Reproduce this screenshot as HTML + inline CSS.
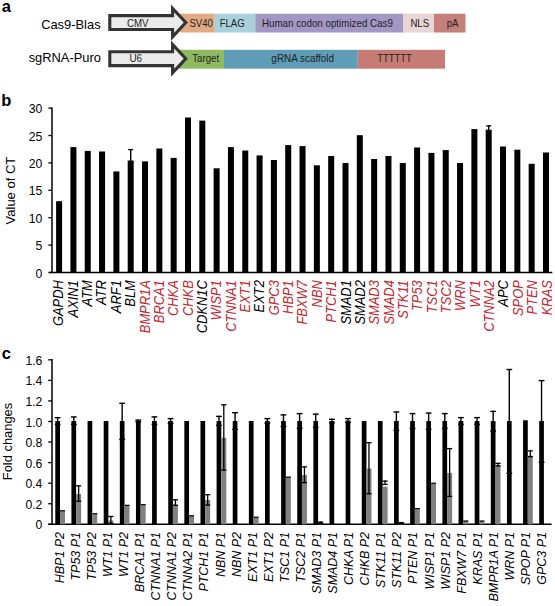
<!DOCTYPE html>
<html><head><meta charset="utf-8"><style>
html,body{margin:0;padding:0;background:#fff;}
svg{display:block;}
text{font-family:"Liberation Sans", sans-serif;}
</style></head><body>
<svg width="555" height="606" viewBox="0 0 555 606" font-family='"Liberation Sans", sans-serif'>
<rect width="555" height="606" fill="#fff"/>
<text x="1.8" y="11.9" font-size="16.5" font-weight="bold">a</text>
<text x="100.6" y="28.9" font-size="12.9" text-anchor="end">Cas9-Blas</text>
<text x="101.0" y="62.1" font-size="12.9" text-anchor="end">sgRNA-Puro</text>
<rect x="180.2" y="13.7" width="34.50" height="18.8" fill="#e2aa84"/>
<rect x="214.7" y="13.7" width="40.60" height="18.8" fill="#a9d1dd"/>
<rect x="255.3" y="13.7" width="147.70" height="18.8" fill="#a398c4"/>
<rect x="403" y="13.7" width="31.00" height="18.8" fill="#e9d5d6"/>
<rect x="434" y="13.7" width="31.50" height="18.8" fill="#c5807a"/>
<rect x="178.6" y="49.8" width="45.40" height="18.9" fill="#8fba62"/>
<rect x="224" y="49.8" width="133.80" height="18.9" fill="#5f9db7"/>
<rect x="357.8" y="49.8" width="87.20" height="18.9" fill="#c67c74"/>
<text x="201.1" y="26.8" font-size="10.2" text-anchor="middle" textLength="23.43" lengthAdjust="spacingAndGlyphs" fill="#1e1e1e">SV40</text>
<text x="232.1" y="26.8" font-size="10.2" text-anchor="middle" textLength="24.94" lengthAdjust="spacingAndGlyphs" fill="#1e1e1e">FLAG</text>
<text x="327.4" y="26.9" font-size="10.2" text-anchor="middle" textLength="131.00" lengthAdjust="spacingAndGlyphs" fill="#1e1e1e">Human codon optimized Cas9</text>
<text x="419.8" y="26.7" font-size="10.2" text-anchor="middle" textLength="18.81" lengthAdjust="spacingAndGlyphs" fill="#1e1e1e">NLS</text>
<text x="452.6" y="26.7" font-size="10.2" text-anchor="middle" textLength="11.70" lengthAdjust="spacingAndGlyphs" fill="#1e1e1e">pA</text>
<text x="205.7" y="61.9" font-size="10.2" text-anchor="middle" textLength="26.87" lengthAdjust="spacingAndGlyphs" fill="#1e1e1e">Target</text>
<text x="302.7" y="61.9" font-size="10.2" text-anchor="middle" textLength="62.67" lengthAdjust="spacingAndGlyphs" fill="#1e1e1e">gRNA scaffold</text>
<text x="394.4" y="61.7" font-size="10.2" text-anchor="middle" textLength="34.52" lengthAdjust="spacingAndGlyphs" fill="#1e1e1e">TTTTTT</text>
<polygon points="109.8,15.6 172.6,15.6 172.6,8.4 185.8,22.55 172.6,36.7 172.6,29.5 109.8,29.5" fill="#ebebeb" stroke="#333" stroke-width="3.1" stroke-linejoin="miter" stroke-miterlimit="10"/>
<polygon points="109.8,51.7 172.6,51.7 172.6,44.5 185.8,58.65 172.6,72.80000000000001 172.6,65.6 109.8,65.6" fill="#ebebeb" stroke="#333" stroke-width="3.1" stroke-linejoin="miter" stroke-miterlimit="10"/>
<text x="137.8" y="26.7" font-size="10.2" text-anchor="middle" textLength="21.51" lengthAdjust="spacingAndGlyphs" fill="#1e1e1e">CMV</text>
<text x="135.8" y="61.8" font-size="10.2" text-anchor="middle" textLength="12.66" lengthAdjust="spacingAndGlyphs" fill="#1e1e1e">U6</text>
<text x="1.3" y="106.2" font-size="16.5" font-weight="bold">b</text>
<line x1="52.0" y1="107.39999999999999" x2="52.0" y2="272.5" stroke="#000" stroke-width="1.5"/>
<line x1="49" y1="272.5" x2="552.3" y2="272.5" stroke="#000" stroke-width="1.5"/>
<line x1="48.4" y1="272.50" x2="52.0" y2="272.50" stroke="#000" stroke-width="1.3"/>
<text x="42.4" y="277.50" font-size="12.2" text-anchor="end">0</text>
<line x1="48.4" y1="245.10" x2="52.0" y2="245.10" stroke="#000" stroke-width="1.3"/>
<text x="42.4" y="250.10" font-size="12.2" text-anchor="end">5</text>
<line x1="48.4" y1="217.70" x2="52.0" y2="217.70" stroke="#000" stroke-width="1.3"/>
<text x="42.4" y="222.70" font-size="12.2" text-anchor="end">10</text>
<line x1="48.4" y1="190.30" x2="52.0" y2="190.30" stroke="#000" stroke-width="1.3"/>
<text x="42.4" y="195.30" font-size="12.2" text-anchor="end">15</text>
<line x1="48.4" y1="162.90" x2="52.0" y2="162.90" stroke="#000" stroke-width="1.3"/>
<text x="42.4" y="167.90" font-size="12.2" text-anchor="end">20</text>
<line x1="48.4" y1="135.50" x2="52.0" y2="135.50" stroke="#000" stroke-width="1.3"/>
<text x="42.4" y="140.50" font-size="12.2" text-anchor="end">25</text>
<line x1="48.4" y1="108.10" x2="52.0" y2="108.10" stroke="#000" stroke-width="1.3"/>
<text x="42.4" y="113.10" font-size="12.2" text-anchor="end">30</text>
<text transform="translate(14.5,190.6) rotate(-90)" font-size="13" text-anchor="middle">Value of CT</text>
<rect x="56.10" y="201.2" width="6.0" height="71.30" fill="#000"/>
<text transform="translate(63.40,280.2) rotate(-90) scale(0.915,1)" font-size="14.1" font-style="italic" text-anchor="end" fill="#000">GAPDH</text>
<rect x="70.42" y="147.1" width="6.0" height="125.40" fill="#000"/>
<text transform="translate(77.76,280.2) rotate(-90) scale(0.915,1)" font-size="14.1" font-style="italic" text-anchor="end" fill="#000">AXIN1</text>
<rect x="84.74" y="150.9" width="6.0" height="121.60" fill="#000"/>
<text transform="translate(92.11,280.2) rotate(-90) scale(0.915,1)" font-size="14.1" font-style="italic" text-anchor="end" fill="#000">ATM</text>
<rect x="99.06" y="151.5" width="6.0" height="121.00" fill="#000"/>
<text transform="translate(106.47,280.2) rotate(-90) scale(0.915,1)" font-size="14.1" font-style="italic" text-anchor="end" fill="#000">ATR</text>
<rect x="113.38" y="171.4" width="6.0" height="101.10" fill="#000"/>
<text transform="translate(120.82,280.2) rotate(-90) scale(0.915,1)" font-size="14.1" font-style="italic" text-anchor="end" fill="#000">ARF1</text>
<rect x="127.70" y="160.5" width="6.0" height="112.00" fill="#000"/>
<text transform="translate(135.18,280.2) rotate(-90) scale(0.915,1)" font-size="14.1" font-style="italic" text-anchor="end" fill="#000">BLM</text>
<rect x="142.02" y="161.4" width="6.0" height="111.10" fill="#000"/>
<text transform="translate(149.54,280.2) rotate(-90) scale(0.915,1)" font-size="14.1" font-style="italic" text-anchor="end" fill="#c5262f">BMPR1A</text>
<rect x="156.34" y="148.5" width="6.0" height="124.00" fill="#000"/>
<text transform="translate(163.89,280.2) rotate(-90) scale(0.915,1)" font-size="14.1" font-style="italic" text-anchor="end" fill="#c5262f">BRCA1</text>
<rect x="170.66" y="157.9" width="6.0" height="114.60" fill="#000"/>
<text transform="translate(178.25,280.2) rotate(-90) scale(0.915,1)" font-size="14.1" font-style="italic" text-anchor="end" fill="#c5262f">CHKA</text>
<rect x="184.98" y="117.5" width="6.0" height="155.00" fill="#000"/>
<text transform="translate(192.60,280.2) rotate(-90) scale(0.915,1)" font-size="14.1" font-style="italic" text-anchor="end" fill="#c5262f">CHKB</text>
<rect x="199.30" y="120.6" width="6.0" height="151.90" fill="#000"/>
<text transform="translate(206.96,280.2) rotate(-90) scale(0.915,1)" font-size="14.1" font-style="italic" text-anchor="end" fill="#000">CDKN1C</text>
<rect x="213.62" y="168.3" width="6.0" height="104.20" fill="#000"/>
<text transform="translate(221.32,280.2) rotate(-90) scale(0.915,1)" font-size="14.1" font-style="italic" text-anchor="end" fill="#c5262f">WISP1</text>
<rect x="227.94" y="147.1" width="6.0" height="125.40" fill="#000"/>
<text transform="translate(235.67,280.2) rotate(-90) scale(0.915,1)" font-size="14.1" font-style="italic" text-anchor="end" fill="#c5262f">CTNNA1</text>
<rect x="242.26" y="150.5" width="6.0" height="122.00" fill="#000"/>
<text transform="translate(250.03,280.2) rotate(-90) scale(0.915,1)" font-size="14.1" font-style="italic" text-anchor="end" fill="#c5262f">EXT1</text>
<rect x="256.58" y="155.4" width="6.0" height="117.10" fill="#000"/>
<text transform="translate(264.38,280.2) rotate(-90) scale(0.915,1)" font-size="14.1" font-style="italic" text-anchor="end" fill="#000">EXT2</text>
<rect x="270.90" y="160" width="6.0" height="112.50" fill="#000"/>
<text transform="translate(278.74,280.2) rotate(-90) scale(0.915,1)" font-size="14.1" font-style="italic" text-anchor="end" fill="#c5262f">GPC3</text>
<rect x="285.22" y="145.1" width="6.0" height="127.40" fill="#000"/>
<text transform="translate(293.10,280.2) rotate(-90) scale(0.915,1)" font-size="14.1" font-style="italic" text-anchor="end" fill="#c5262f">HBP1</text>
<rect x="299.54" y="146.1" width="6.0" height="126.40" fill="#000"/>
<text transform="translate(307.45,280.2) rotate(-90) scale(0.915,1)" font-size="14.1" font-style="italic" text-anchor="end" fill="#c5262f">FBXW7</text>
<rect x="313.86" y="165.3" width="6.0" height="107.20" fill="#000"/>
<text transform="translate(321.81,280.2) rotate(-90) scale(0.915,1)" font-size="14.1" font-style="italic" text-anchor="end" fill="#c5262f">NBN</text>
<rect x="328.18" y="156" width="6.0" height="116.50" fill="#000"/>
<text transform="translate(336.16,280.2) rotate(-90) scale(0.915,1)" font-size="14.1" font-style="italic" text-anchor="end" fill="#c5262f">PTCH1</text>
<rect x="342.50" y="163" width="6.0" height="109.50" fill="#000"/>
<text transform="translate(350.52,280.2) rotate(-90) scale(0.915,1)" font-size="14.1" font-style="italic" text-anchor="end" fill="#000">SMAD1</text>
<rect x="356.82" y="135.2" width="6.0" height="137.30" fill="#000"/>
<text transform="translate(364.88,280.2) rotate(-90) scale(0.915,1)" font-size="14.1" font-style="italic" text-anchor="end" fill="#000">SMAD2</text>
<rect x="371.14" y="159" width="6.0" height="113.50" fill="#000"/>
<text transform="translate(379.23,280.2) rotate(-90) scale(0.915,1)" font-size="14.1" font-style="italic" text-anchor="end" fill="#c5262f">SMAD3</text>
<rect x="385.46" y="156" width="6.0" height="116.50" fill="#000"/>
<text transform="translate(393.59,280.2) rotate(-90) scale(0.915,1)" font-size="14.1" font-style="italic" text-anchor="end" fill="#c5262f">SMAD4</text>
<rect x="399.78" y="163" width="6.0" height="109.50" fill="#000"/>
<text transform="translate(407.94,280.2) rotate(-90) scale(0.915,1)" font-size="14.1" font-style="italic" text-anchor="end" fill="#c5262f">STK11</text>
<rect x="414.10" y="147.5" width="6.0" height="125.00" fill="#000"/>
<text transform="translate(422.30,280.2) rotate(-90) scale(0.915,1)" font-size="14.1" font-style="italic" text-anchor="end" fill="#c5262f">TP53</text>
<rect x="428.42" y="152.9" width="6.0" height="119.60" fill="#000"/>
<text transform="translate(436.66,280.2) rotate(-90) scale(0.915,1)" font-size="14.1" font-style="italic" text-anchor="end" fill="#c5262f">TSC1</text>
<rect x="442.74" y="150.1" width="6.0" height="122.40" fill="#000"/>
<text transform="translate(451.01,280.2) rotate(-90) scale(0.915,1)" font-size="14.1" font-style="italic" text-anchor="end" fill="#c5262f">TSC2</text>
<rect x="457.06" y="163" width="6.0" height="109.50" fill="#000"/>
<text transform="translate(465.37,280.2) rotate(-90) scale(0.915,1)" font-size="14.1" font-style="italic" text-anchor="end" fill="#c5262f">WRN</text>
<rect x="471.38" y="129.1" width="6.0" height="143.40" fill="#000"/>
<text transform="translate(479.72,280.2) rotate(-90) scale(0.915,1)" font-size="14.1" font-style="italic" text-anchor="end" fill="#c5262f">WT1</text>
<rect x="485.70" y="129.7" width="6.0" height="142.80" fill="#000"/>
<text transform="translate(494.08,280.2) rotate(-90) scale(0.915,1)" font-size="14.1" font-style="italic" text-anchor="end" fill="#c5262f">CTNNA2</text>
<rect x="500.02" y="146.5" width="6.0" height="126.00" fill="#000"/>
<text transform="translate(508.44,280.2) rotate(-90) scale(0.915,1)" font-size="14.1" font-style="italic" text-anchor="end" fill="#000">APC</text>
<rect x="514.34" y="149.7" width="6.0" height="122.80" fill="#000"/>
<text transform="translate(522.79,280.2) rotate(-90) scale(0.915,1)" font-size="14.1" font-style="italic" text-anchor="end" fill="#c5262f">SPOP</text>
<rect x="528.66" y="163.8" width="6.0" height="108.70" fill="#000"/>
<text transform="translate(537.15,280.2) rotate(-90) scale(0.915,1)" font-size="14.1" font-style="italic" text-anchor="end" fill="#c5262f">PTEN</text>
<rect x="542.98" y="152.5" width="6.0" height="120.00" fill="#000"/>
<text transform="translate(551.50,280.2) rotate(-90) scale(0.915,1)" font-size="14.1" font-style="italic" text-anchor="end" fill="#c5262f">KRAS</text>
<line x1="130.70" y1="149.0" x2="130.70" y2="161" stroke="#000" stroke-width="1.4"/>
<line x1="128.20" y1="149.6" x2="133.20" y2="149.6" stroke="#000" stroke-width="1.3"/>
<line x1="488.70" y1="125.3" x2="488.70" y2="130" stroke="#000" stroke-width="1.4"/>
<line x1="486.20" y1="125.89999999999999" x2="491.20" y2="125.89999999999999" stroke="#000" stroke-width="1.3"/>
<text x="1.7" y="358.9" font-size="16.5" font-weight="bold">c</text>
<line x1="52.0" y1="359.12" x2="52.0" y2="524.3" stroke="#000" stroke-width="1.5"/>
<line x1="48" y1="524.3" x2="551.6" y2="524.3" stroke="#000" stroke-width="1.5"/>
<line x1="48.2" y1="524.30" x2="52.0" y2="524.30" stroke="#000" stroke-width="1.3"/>
<text x="42.4" y="529.30" font-size="12.2" text-anchor="end">0</text>
<line x1="48.2" y1="503.74" x2="52.0" y2="503.74" stroke="#000" stroke-width="1.3"/>
<text x="42.4" y="508.74" font-size="12.2" text-anchor="end">0.2</text>
<line x1="48.2" y1="483.18" x2="52.0" y2="483.18" stroke="#000" stroke-width="1.3"/>
<text x="42.4" y="488.18" font-size="12.2" text-anchor="end">0.4</text>
<line x1="48.2" y1="462.62" x2="52.0" y2="462.62" stroke="#000" stroke-width="1.3"/>
<text x="42.4" y="467.62" font-size="12.2" text-anchor="end">0.6</text>
<line x1="48.2" y1="442.06" x2="52.0" y2="442.06" stroke="#000" stroke-width="1.3"/>
<text x="42.4" y="447.06" font-size="12.2" text-anchor="end">0.8</text>
<line x1="48.2" y1="421.50" x2="52.0" y2="421.50" stroke="#000" stroke-width="1.3"/>
<text x="42.4" y="426.50" font-size="12.2" text-anchor="end">1.0</text>
<line x1="48.2" y1="400.94" x2="52.0" y2="400.94" stroke="#000" stroke-width="1.3"/>
<text x="42.4" y="405.94" font-size="12.2" text-anchor="end">1.2</text>
<line x1="48.2" y1="380.38" x2="52.0" y2="380.38" stroke="#000" stroke-width="1.3"/>
<text x="42.4" y="385.38" font-size="12.2" text-anchor="end">1.4</text>
<line x1="48.2" y1="359.82" x2="52.0" y2="359.82" stroke="#000" stroke-width="1.3"/>
<text x="42.4" y="364.82" font-size="12.2" text-anchor="end">1.6</text>
<text transform="translate(11.8,441.5) rotate(-90)" font-size="12.9" text-anchor="middle">Fold changes</text>
<rect x="55.30" y="421" width="4.7" height="103.30" fill="#000"/>
<rect x="60.00" y="510.2" width="5.0" height="14.10" fill="#808080"/>
<line x1="60.00" y1="510.8" x2="65.00" y2="510.8" stroke="#111" stroke-width="1.2"/>
<line x1="57.65" y1="417.1" x2="57.65" y2="421" stroke="#000" stroke-width="1.4"/>
<line x1="54.75" y1="417.70000000000005" x2="60.55" y2="417.70000000000005" stroke="#000" stroke-width="1.4"/>
<line x1="54.75" y1="424.4" x2="60.55" y2="424.4" stroke="#000" stroke-width="1.4"/>
<text transform="translate(63.70,532.0) rotate(-90) scale(1.04,1)" font-size="12" font-style="italic" text-anchor="end">HBP1 P2</text>
<rect x="71.43" y="421" width="4.7" height="103.30" fill="#000"/>
<rect x="76.13" y="494" width="5.0" height="30.30" fill="#808080"/>
<line x1="73.78" y1="416.4" x2="73.78" y2="421" stroke="#000" stroke-width="1.4"/>
<line x1="70.88" y1="417.0" x2="76.68" y2="417.0" stroke="#000" stroke-width="1.4"/>
<line x1="70.88" y1="424.4" x2="76.68" y2="424.4" stroke="#000" stroke-width="1.4"/>
<line x1="78.63" y1="485.3" x2="78.63" y2="501.9" stroke="#000" stroke-width="1.3"/>
<line x1="76.03" y1="485.90000000000003" x2="81.23" y2="485.90000000000003" stroke="#000" stroke-width="1.3"/>
<line x1="76.03" y1="501.29999999999995" x2="81.23" y2="501.29999999999995" stroke="#000" stroke-width="1.3"/>
<text transform="translate(79.78,532.0) rotate(-90) scale(1.04,1)" font-size="12" font-style="italic" text-anchor="end">TP53 P1</text>
<rect x="87.56" y="421" width="4.7" height="103.30" fill="#000"/>
<rect x="92.26" y="513.1" width="5.0" height="11.20" fill="#808080"/>
<line x1="92.26" y1="513.7" x2="97.26" y2="513.7" stroke="#111" stroke-width="1.2"/>
<text transform="translate(95.86,532.0) rotate(-90) scale(1.04,1)" font-size="12" font-style="italic" text-anchor="end">TP53 P2</text>
<rect x="103.69" y="421" width="4.7" height="103.30" fill="#000"/>
<rect x="108.39" y="520.5" width="5.0" height="3.80" fill="#808080"/>
<line x1="110.89" y1="515.9" x2="110.89" y2="524" stroke="#000" stroke-width="1.3"/>
<line x1="108.29" y1="516.5" x2="113.49" y2="516.5" stroke="#000" stroke-width="1.3"/>
<line x1="108.29" y1="523.4" x2="113.49" y2="523.4" stroke="#000" stroke-width="1.3"/>
<text transform="translate(111.94,532.0) rotate(-90) scale(1.04,1)" font-size="12" font-style="italic" text-anchor="end">WT1 P1</text>
<rect x="119.82" y="421" width="4.7" height="103.30" fill="#000"/>
<rect x="124.52" y="504.8" width="5.0" height="19.50" fill="#808080"/>
<line x1="124.52" y1="505.40000000000003" x2="129.52" y2="505.40000000000003" stroke="#111" stroke-width="1.2"/>
<line x1="122.17" y1="402.7" x2="122.17" y2="421" stroke="#000" stroke-width="1.4"/>
<line x1="119.27" y1="403.3" x2="125.07" y2="403.3" stroke="#000" stroke-width="1.4"/>
<line x1="119.27" y1="439.4" x2="125.07" y2="439.4" stroke="#000" stroke-width="1.4"/>
<text transform="translate(128.02,532.0) rotate(-90) scale(1.04,1)" font-size="12" font-style="italic" text-anchor="end">WT1 P2</text>
<rect x="135.95" y="421" width="4.7" height="103.30" fill="#000"/>
<rect x="140.65" y="504" width="5.0" height="20.30" fill="#808080"/>
<line x1="140.65" y1="504.6" x2="145.65" y2="504.6" stroke="#111" stroke-width="1.2"/>
<line x1="138.30" y1="419.5" x2="138.30" y2="421" stroke="#000" stroke-width="1.4"/>
<line x1="135.40" y1="420.1" x2="141.20" y2="420.1" stroke="#000" stroke-width="1.4"/>
<line x1="135.40" y1="421.9" x2="141.20" y2="421.9" stroke="#000" stroke-width="1.4"/>
<text transform="translate(144.10,532.0) rotate(-90) scale(1.04,1)" font-size="12" font-style="italic" text-anchor="end">BRCA1 P1</text>
<rect x="152.08" y="421" width="4.7" height="103.30" fill="#000"/>
<line x1="154.43" y1="416.3" x2="154.43" y2="421" stroke="#000" stroke-width="1.4"/>
<line x1="151.53" y1="416.90000000000003" x2="157.33" y2="416.90000000000003" stroke="#000" stroke-width="1.4"/>
<line x1="151.53" y1="424.4" x2="157.33" y2="424.4" stroke="#000" stroke-width="1.4"/>
<text transform="translate(160.18,532.0) rotate(-90) scale(1.04,1)" font-size="12" font-style="italic" text-anchor="end">CTNNA1 P1</text>
<rect x="168.21" y="421" width="4.7" height="103.30" fill="#000"/>
<rect x="172.91" y="505" width="5.0" height="19.30" fill="#808080"/>
<line x1="170.56" y1="418" x2="170.56" y2="421" stroke="#000" stroke-width="1.4"/>
<line x1="167.66" y1="418.6" x2="173.46" y2="418.6" stroke="#000" stroke-width="1.4"/>
<line x1="167.66" y1="423.4" x2="173.46" y2="423.4" stroke="#000" stroke-width="1.4"/>
<line x1="175.41" y1="499.2" x2="175.41" y2="505.8" stroke="#000" stroke-width="1.3"/>
<line x1="172.81" y1="499.8" x2="178.01" y2="499.8" stroke="#000" stroke-width="1.3"/>
<line x1="172.81" y1="505.2" x2="178.01" y2="505.2" stroke="#000" stroke-width="1.3"/>
<text transform="translate(176.26,532.0) rotate(-90) scale(1.04,1)" font-size="12" font-style="italic" text-anchor="end">CTNNA1 P2</text>
<rect x="184.34" y="421" width="4.7" height="103.30" fill="#000"/>
<rect x="189.04" y="515.2" width="5.0" height="9.10" fill="#808080"/>
<line x1="189.04" y1="515.8000000000001" x2="194.04" y2="515.8000000000001" stroke="#111" stroke-width="1.2"/>
<text transform="translate(192.34,532.0) rotate(-90) scale(1.04,1)" font-size="12" font-style="italic" text-anchor="end">CTNNA2 P1</text>
<rect x="200.47" y="421" width="4.7" height="103.30" fill="#000"/>
<rect x="205.17" y="500" width="5.0" height="24.30" fill="#808080"/>
<line x1="207.67" y1="494.1" x2="207.67" y2="505.7" stroke="#000" stroke-width="1.3"/>
<line x1="205.07" y1="494.70000000000005" x2="210.27" y2="494.70000000000005" stroke="#000" stroke-width="1.3"/>
<line x1="205.07" y1="505.09999999999997" x2="210.27" y2="505.09999999999997" stroke="#000" stroke-width="1.3"/>
<text transform="translate(208.42,532.0) rotate(-90) scale(1.04,1)" font-size="12" font-style="italic" text-anchor="end">PTCH1 P1</text>
<rect x="216.60" y="421" width="4.7" height="103.30" fill="#000"/>
<rect x="221.30" y="437.8" width="5.0" height="86.50" fill="#808080"/>
<line x1="218.95" y1="415.8" x2="218.95" y2="421" stroke="#000" stroke-width="1.4"/>
<line x1="216.05" y1="416.40000000000003" x2="221.85" y2="416.40000000000003" stroke="#000" stroke-width="1.4"/>
<line x1="216.05" y1="425.4" x2="221.85" y2="425.4" stroke="#000" stroke-width="1.4"/>
<line x1="223.80" y1="404.2" x2="223.80" y2="470.7" stroke="#000" stroke-width="1.3"/>
<line x1="221.20" y1="404.8" x2="226.40" y2="404.8" stroke="#000" stroke-width="1.3"/>
<line x1="221.20" y1="470.09999999999997" x2="226.40" y2="470.09999999999997" stroke="#000" stroke-width="1.3"/>
<text transform="translate(224.50,532.0) rotate(-90) scale(1.04,1)" font-size="12" font-style="italic" text-anchor="end">NBN P1</text>
<rect x="232.73" y="421" width="4.7" height="103.30" fill="#000"/>
<line x1="235.08" y1="412.1" x2="235.08" y2="421" stroke="#000" stroke-width="1.4"/>
<line x1="232.18" y1="412.70000000000005" x2="237.98" y2="412.70000000000005" stroke="#000" stroke-width="1.4"/>
<line x1="232.18" y1="429.4" x2="237.98" y2="429.4" stroke="#000" stroke-width="1.4"/>
<text transform="translate(240.58,532.0) rotate(-90) scale(1.04,1)" font-size="12" font-style="italic" text-anchor="end">NBN P2</text>
<rect x="248.86" y="421" width="4.7" height="103.30" fill="#000"/>
<rect x="253.56" y="516.7" width="5.0" height="7.60" fill="#808080"/>
<line x1="253.56" y1="517.3000000000001" x2="258.56" y2="517.3000000000001" stroke="#111" stroke-width="1.2"/>
<text transform="translate(256.66,532.0) rotate(-90) scale(1.04,1)" font-size="12" font-style="italic" text-anchor="end">EXT1 P1</text>
<rect x="264.99" y="421" width="4.7" height="103.30" fill="#000"/>
<line x1="267.34" y1="418" x2="267.34" y2="421" stroke="#000" stroke-width="1.4"/>
<line x1="264.44" y1="418.6" x2="270.24" y2="418.6" stroke="#000" stroke-width="1.4"/>
<line x1="264.44" y1="423.4" x2="270.24" y2="423.4" stroke="#000" stroke-width="1.4"/>
<text transform="translate(272.74,532.0) rotate(-90) scale(1.04,1)" font-size="12" font-style="italic" text-anchor="end">EXT1 P2</text>
<rect x="281.12" y="421" width="4.7" height="103.30" fill="#000"/>
<rect x="285.82" y="476.6" width="5.0" height="47.70" fill="#808080"/>
<line x1="285.82" y1="477.20000000000005" x2="290.82" y2="477.20000000000005" stroke="#111" stroke-width="1.2"/>
<line x1="283.47" y1="414.3" x2="283.47" y2="421" stroke="#000" stroke-width="1.4"/>
<line x1="280.57" y1="414.90000000000003" x2="286.37" y2="414.90000000000003" stroke="#000" stroke-width="1.4"/>
<line x1="280.57" y1="426.4" x2="286.37" y2="426.4" stroke="#000" stroke-width="1.4"/>
<text transform="translate(288.82,532.0) rotate(-90) scale(1.04,1)" font-size="12" font-style="italic" text-anchor="end">TSC1 P1</text>
<rect x="297.25" y="421" width="4.7" height="103.30" fill="#000"/>
<rect x="301.95" y="475" width="5.0" height="49.30" fill="#808080"/>
<line x1="299.60" y1="413" x2="299.60" y2="421" stroke="#000" stroke-width="1.4"/>
<line x1="296.70" y1="413.6" x2="302.50" y2="413.6" stroke="#000" stroke-width="1.4"/>
<line x1="296.70" y1="428.4" x2="302.50" y2="428.4" stroke="#000" stroke-width="1.4"/>
<line x1="304.45" y1="466.3" x2="304.45" y2="483.2" stroke="#000" stroke-width="1.3"/>
<line x1="301.85" y1="466.90000000000003" x2="307.05" y2="466.90000000000003" stroke="#000" stroke-width="1.3"/>
<line x1="301.85" y1="482.59999999999997" x2="307.05" y2="482.59999999999997" stroke="#000" stroke-width="1.3"/>
<text transform="translate(304.90,532.0) rotate(-90) scale(1.04,1)" font-size="12" font-style="italic" text-anchor="end">TSC2 P1</text>
<rect x="313.38" y="421" width="4.7" height="103.30" fill="#000"/>
<rect x="318.08" y="522.5" width="5.0" height="1.80" fill="#808080"/>
<line x1="315.73" y1="413.6" x2="315.73" y2="421" stroke="#000" stroke-width="1.4"/>
<line x1="312.83" y1="414.20000000000005" x2="318.63" y2="414.20000000000005" stroke="#000" stroke-width="1.4"/>
<line x1="312.83" y1="427.4" x2="318.63" y2="427.4" stroke="#000" stroke-width="1.4"/>
<line x1="320.58" y1="521.5" x2="320.58" y2="524" stroke="#000" stroke-width="1.3"/>
<line x1="317.98" y1="522.1" x2="323.18" y2="522.1" stroke="#000" stroke-width="1.3"/>
<line x1="317.98" y1="523.4" x2="323.18" y2="523.4" stroke="#000" stroke-width="1.3"/>
<text transform="translate(320.98,532.0) rotate(-90) scale(1.04,1)" font-size="12" font-style="italic" text-anchor="end">SMAD3 P1</text>
<rect x="329.51" y="421" width="4.7" height="103.30" fill="#000"/>
<line x1="331.86" y1="418.7" x2="331.86" y2="421" stroke="#000" stroke-width="1.4"/>
<line x1="328.96" y1="419.3" x2="334.76" y2="419.3" stroke="#000" stroke-width="1.4"/>
<line x1="328.96" y1="422.9" x2="334.76" y2="422.9" stroke="#000" stroke-width="1.4"/>
<text transform="translate(337.06,532.0) rotate(-90) scale(1.04,1)" font-size="12" font-style="italic" text-anchor="end">SMAD4 P1</text>
<rect x="345.64" y="420.5" width="4.7" height="103.80" fill="#000"/>
<line x1="347.99" y1="418" x2="347.99" y2="420.5" stroke="#000" stroke-width="1.4"/>
<line x1="345.09" y1="418.6" x2="350.89" y2="418.6" stroke="#000" stroke-width="1.4"/>
<line x1="345.09" y1="422.4" x2="350.89" y2="422.4" stroke="#000" stroke-width="1.4"/>
<text transform="translate(353.14,532.0) rotate(-90) scale(1.04,1)" font-size="12" font-style="italic" text-anchor="end">CHKA P1</text>
<rect x="361.77" y="421" width="4.7" height="103.30" fill="#000"/>
<rect x="366.47" y="468.5" width="5.0" height="55.80" fill="#808080"/>
<line x1="368.97" y1="442.1" x2="368.97" y2="494.3" stroke="#000" stroke-width="1.3"/>
<line x1="366.37" y1="442.70000000000005" x2="371.57" y2="442.70000000000005" stroke="#000" stroke-width="1.3"/>
<line x1="366.37" y1="493.7" x2="371.57" y2="493.7" stroke="#000" stroke-width="1.3"/>
<text transform="translate(369.22,532.0) rotate(-90) scale(1.04,1)" font-size="12" font-style="italic" text-anchor="end">CHKB P2</text>
<rect x="377.90" y="421" width="4.7" height="103.30" fill="#000"/>
<rect x="382.60" y="486.7" width="5.0" height="37.60" fill="#808080"/>
<line x1="385.10" y1="480.5" x2="385.10" y2="485" stroke="#000" stroke-width="1.3"/>
<line x1="382.50" y1="481.1" x2="387.70" y2="481.1" stroke="#000" stroke-width="1.3"/>
<line x1="382.50" y1="484.4" x2="387.70" y2="484.4" stroke="#000" stroke-width="1.3"/>
<text transform="translate(385.30,532.0) rotate(-90) scale(1.04,1)" font-size="12" font-style="italic" text-anchor="end">STK11 P1</text>
<rect x="394.03" y="421" width="4.7" height="103.30" fill="#000"/>
<rect x="398.73" y="522.5" width="5.0" height="1.80" fill="#808080"/>
<line x1="396.38" y1="411.4" x2="396.38" y2="421" stroke="#000" stroke-width="1.4"/>
<line x1="393.48" y1="412.0" x2="399.28" y2="412.0" stroke="#000" stroke-width="1.4"/>
<line x1="393.48" y1="430.4" x2="399.28" y2="430.4" stroke="#000" stroke-width="1.4"/>
<line x1="401.23" y1="522" x2="401.23" y2="524" stroke="#000" stroke-width="1.3"/>
<line x1="398.63" y1="522.6" x2="403.83" y2="522.6" stroke="#000" stroke-width="1.3"/>
<line x1="398.63" y1="523.4" x2="403.83" y2="523.4" stroke="#000" stroke-width="1.3"/>
<text transform="translate(401.38,532.0) rotate(-90) scale(1.04,1)" font-size="12" font-style="italic" text-anchor="end">STK11 P2</text>
<rect x="410.16" y="421" width="4.7" height="103.30" fill="#000"/>
<rect x="414.86" y="508" width="5.0" height="16.30" fill="#808080"/>
<line x1="414.86" y1="508.6" x2="419.86" y2="508.6" stroke="#111" stroke-width="1.2"/>
<line x1="412.51" y1="413" x2="412.51" y2="421" stroke="#000" stroke-width="1.4"/>
<line x1="409.61" y1="413.6" x2="415.41" y2="413.6" stroke="#000" stroke-width="1.4"/>
<line x1="409.61" y1="428.4" x2="415.41" y2="428.4" stroke="#000" stroke-width="1.4"/>
<text transform="translate(417.46,532.0) rotate(-90) scale(1.04,1)" font-size="12" font-style="italic" text-anchor="end">PTEN P1</text>
<rect x="426.29" y="421" width="4.7" height="103.30" fill="#000"/>
<rect x="430.99" y="482.7" width="5.0" height="41.60" fill="#808080"/>
<line x1="430.99" y1="483.3" x2="435.99" y2="483.3" stroke="#111" stroke-width="1.2"/>
<line x1="428.64" y1="412.5" x2="428.64" y2="421" stroke="#000" stroke-width="1.4"/>
<line x1="425.74" y1="413.1" x2="431.54" y2="413.1" stroke="#000" stroke-width="1.4"/>
<line x1="425.74" y1="429.4" x2="431.54" y2="429.4" stroke="#000" stroke-width="1.4"/>
<text transform="translate(433.54,532.0) rotate(-90) scale(1.04,1)" font-size="12" font-style="italic" text-anchor="end">WISP1 P1</text>
<rect x="442.42" y="421" width="4.7" height="103.30" fill="#000"/>
<rect x="447.12" y="472.9" width="5.0" height="51.40" fill="#808080"/>
<line x1="444.77" y1="413" x2="444.77" y2="421" stroke="#000" stroke-width="1.4"/>
<line x1="441.87" y1="413.6" x2="447.67" y2="413.6" stroke="#000" stroke-width="1.4"/>
<line x1="441.87" y1="428.4" x2="447.67" y2="428.4" stroke="#000" stroke-width="1.4"/>
<line x1="449.62" y1="448" x2="449.62" y2="497" stroke="#000" stroke-width="1.3"/>
<line x1="447.02" y1="448.6" x2="452.22" y2="448.6" stroke="#000" stroke-width="1.3"/>
<line x1="447.02" y1="496.4" x2="452.22" y2="496.4" stroke="#000" stroke-width="1.3"/>
<text transform="translate(449.62,532.0) rotate(-90) scale(1.04,1)" font-size="12" font-style="italic" text-anchor="end">WISP1 P2</text>
<rect x="458.55" y="421" width="4.7" height="103.30" fill="#000"/>
<rect x="463.25" y="520.5" width="5.0" height="3.80" fill="#808080"/>
<line x1="463.25" y1="521.1" x2="468.25" y2="521.1" stroke="#111" stroke-width="1.2"/>
<line x1="460.90" y1="417" x2="460.90" y2="421" stroke="#000" stroke-width="1.4"/>
<line x1="458.00" y1="417.6" x2="463.80" y2="417.6" stroke="#000" stroke-width="1.4"/>
<line x1="458.00" y1="424.4" x2="463.80" y2="424.4" stroke="#000" stroke-width="1.4"/>
<text transform="translate(465.70,532.0) rotate(-90) scale(1.04,1)" font-size="12" font-style="italic" text-anchor="end">FBXW7 P1</text>
<rect x="474.68" y="421" width="4.7" height="103.30" fill="#000"/>
<rect x="479.38" y="520.5" width="5.0" height="3.80" fill="#808080"/>
<line x1="479.38" y1="521.1" x2="484.38" y2="521.1" stroke="#111" stroke-width="1.2"/>
<line x1="477.03" y1="417" x2="477.03" y2="421" stroke="#000" stroke-width="1.4"/>
<line x1="474.13" y1="417.6" x2="479.93" y2="417.6" stroke="#000" stroke-width="1.4"/>
<line x1="474.13" y1="424.4" x2="479.93" y2="424.4" stroke="#000" stroke-width="1.4"/>
<text transform="translate(481.78,532.0) rotate(-90) scale(1.04,1)" font-size="12" font-style="italic" text-anchor="end">KRAS P1</text>
<rect x="490.81" y="421" width="4.7" height="103.30" fill="#000"/>
<rect x="495.51" y="465.5" width="5.0" height="58.80" fill="#808080"/>
<line x1="493.16" y1="410.8" x2="493.16" y2="421" stroke="#000" stroke-width="1.4"/>
<line x1="490.26" y1="411.40000000000003" x2="496.06" y2="411.40000000000003" stroke="#000" stroke-width="1.4"/>
<line x1="490.26" y1="431.09999999999997" x2="496.06" y2="431.09999999999997" stroke="#000" stroke-width="1.4"/>
<line x1="498.01" y1="462.8" x2="498.01" y2="466.4" stroke="#000" stroke-width="1.3"/>
<line x1="495.41" y1="463.40000000000003" x2="500.61" y2="463.40000000000003" stroke="#000" stroke-width="1.3"/>
<line x1="495.41" y1="465.79999999999995" x2="500.61" y2="465.79999999999995" stroke="#000" stroke-width="1.3"/>
<text transform="translate(497.86,532.0) rotate(-90) scale(1.04,1)" font-size="12" font-style="italic" text-anchor="end">BMPR1A P1</text>
<rect x="506.94" y="421" width="4.7" height="103.30" fill="#000"/>
<line x1="509.29" y1="368.9" x2="509.29" y2="421" stroke="#000" stroke-width="1.4"/>
<line x1="506.39" y1="369.5" x2="512.19" y2="369.5" stroke="#000" stroke-width="1.4"/>
<line x1="506.39" y1="473.29999999999995" x2="512.19" y2="473.29999999999995" stroke="#000" stroke-width="1.4"/>
<text transform="translate(513.94,532.0) rotate(-90) scale(1.04,1)" font-size="12" font-style="italic" text-anchor="end">WRN P1</text>
<rect x="523.07" y="420.3" width="4.7" height="104.00" fill="#000"/>
<rect x="527.77" y="455.8" width="5.0" height="68.50" fill="#808080"/>
<line x1="530.27" y1="450.3" x2="530.27" y2="457.2" stroke="#000" stroke-width="1.3"/>
<line x1="527.67" y1="450.90000000000003" x2="532.87" y2="450.90000000000003" stroke="#000" stroke-width="1.3"/>
<line x1="527.67" y1="456.59999999999997" x2="532.87" y2="456.59999999999997" stroke="#000" stroke-width="1.3"/>
<text transform="translate(530.02,532.0) rotate(-90) scale(1.04,1)" font-size="12" font-style="italic" text-anchor="end">SPOP P1</text>
<rect x="539.20" y="421" width="4.7" height="103.30" fill="#000"/>
<line x1="541.55" y1="380" x2="541.55" y2="421" stroke="#000" stroke-width="1.4"/>
<line x1="538.65" y1="380.6" x2="544.45" y2="380.6" stroke="#000" stroke-width="1.4"/>
<line x1="538.65" y1="462.2" x2="544.45" y2="462.2" stroke="#000" stroke-width="1.4"/>
<text transform="translate(546.10,532.0) rotate(-90) scale(1.04,1)" font-size="12" font-style="italic" text-anchor="end">GPC3 P1</text>
</svg>
</body></html>
